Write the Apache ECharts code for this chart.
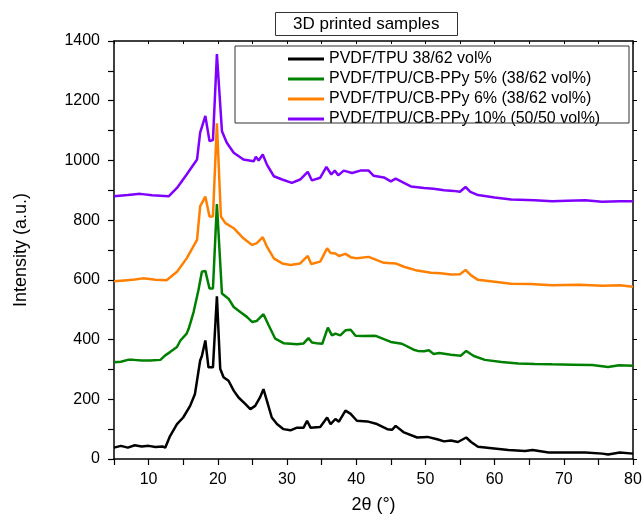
<!DOCTYPE html>
<html>
<head>
<meta charset="utf-8">
<title>3D printed samples - XRD</title>
<script src="https://cdn.jsdelivr.net/npm/echarts@6/dist/echarts.min.js"></script>
<style>
  html, body { margin: 0; padding: 0; background: #fff; }
  #chart { width: 644px; height: 527px; }
</style>
</head>
<body>
<div id="chart"></div>
<script>
// values (2theta in degrees, intensity in a.u.)
var seriesNames = [
  "PVDF/TPU 38/62 vol%",
  "PVDF/TPU/CB-PPy 5% (38/62 vol%)",
  "PVDF/TPU/CB-PPy 6% (38/62 vol%)",
  "PVDF/TPU/CB-PPy 10% (50/50 vol%)"
];
var seriesColors = ["#000000", "#008000", "#ff8000", "#8000ff"];

var xBlack = [5, 6, 7, 8, 9, 10, 11, 12, 12.4, 13.1, 14.1, 15.0, 16.0, 16.7, 17.45, 17.7, 18.2, 18.65,
  19.3, 19.87, 20.35, 20.83, 21.55, 22.3, 23.0, 24.0, 24.7, 25.4, 26.1, 26.6, 27.1, 27.8, 28.55,
  29.5, 30.5, 31.45, 32.4, 32.9, 33.4, 34.8, 35.8, 36.3, 37.0, 37.5, 38.45, 39.2, 40.1, 41.6, 43.0,
  44.5, 45.2, 45.7, 46.9, 48.8, 50.3, 51.7, 52.7, 53.7, 54.7, 55.9, 56.6, 57.6, 59.6, 62.0, 64.4,
  65.5, 67.8, 70.2, 73.1, 75.6, 76.4, 78.1, 80];
var yBlack = [38, 44, 38, 46, 42, 44, 40, 42, 38, 77, 117, 139, 178, 218, 330, 345, 397, 307,
  307, 545, 302, 274, 262, 229, 206, 184, 167, 178, 206, 234, 195, 139, 117,
  100, 96, 105, 105, 128, 105, 107, 139, 117, 134, 125, 162, 151, 128, 126, 117,
  100, 98, 111, 89, 72, 74, 66, 59, 62, 57, 72, 57, 41, 36, 30, 27,
  30, 22, 22, 22, 18, 15, 22, 18];

var xGreen = [5, 6, 7, 7.8, 9, 10.2, 11.7, 12.4, 13.1, 14.1, 14.6, 15.5, 15.8, 16.5, 17.2, 17.7,
  18.2, 18.8, 19.3, 19.87, 20.6, 21.55, 22.3, 23.25, 24.2, 24.95, 25.6, 26.6, 27.35, 28.3, 29.5,
  30.5, 31.45, 32.4, 33.1, 33.6, 34.3, 35.1, 35.9, 36.5, 37.0, 37.7, 38.45, 39.2, 39.9, 41.0,
  42.6, 43.0, 45.0, 46.6, 48.3, 48.9, 49.8, 50.5, 51.2, 52.0, 53.7, 55.1, 55.9, 57.0, 58.6,
  61.0, 63.4, 65.8, 68.3, 71.2, 74.1, 76.4, 78.0, 80];
var yGreen = [324, 326, 332, 332, 330, 330, 332, 347, 358, 375, 397, 420, 437, 492, 565, 627,
  630, 571, 571, 854, 554, 537, 509, 492, 476, 459, 462, 485, 448, 403, 388,
  386, 384, 387, 405, 390, 388, 386, 440, 414, 420, 414, 431, 433, 413, 412,
  413, 411, 392, 386, 366, 362, 361, 364, 352, 355, 349, 346, 362, 345, 332,
  325, 320, 318, 317, 316, 315, 308, 314, 312];

var xOrange = [5, 6.5, 8, 9.2, 11, 12.6, 14.1, 15.5, 17.0, 17.45, 18.2, 18.8, 19.3, 19.87, 20.45,
  21.1, 22.3, 23.7, 24.95, 25.6, 26.5, 27.1, 28.1, 29.3, 30.5, 31.9, 33.0, 33.5, 34.8, 35.8,
  36.3, 37.0, 37.5, 38.45, 39.2, 40.1, 41.8, 43.0, 44.0, 45.7, 46.9, 48.8, 50.8, 52.2, 53.7,
  55.0, 55.8, 56.6, 57.6, 60.0, 62.4, 65.2, 68.3, 72.2, 75.6, 78.1, 80];
var yOrange = [595, 598, 601, 605, 600, 599, 627, 672, 734, 846, 879, 812, 812, 1124, 812,
  790, 773, 739, 717, 722, 743, 711, 672, 655, 650, 655, 680, 653, 661, 706,
  690, 688, 680, 687, 676, 672, 677, 666, 657, 655, 644, 631, 624, 622, 618,
  619, 633, 615, 600, 594, 587, 586, 582, 584, 580, 582, 577];

var xPurple = [5, 7, 8.8, 10.5, 12.9, 14.1, 15.5, 17.0, 17.45, 18.2, 18.8, 19.3, 19.87, 20.6,
  21.3, 22.3, 23.7, 25.2, 25.5, 25.9, 26.5, 27.1, 28.1, 29.3, 30.7, 31.9, 33.0, 33.6, 34.8,
  35.7, 36.4, 36.9, 37.4, 38.2, 39.4, 40.6, 41.8, 42.5, 44.0, 45.0, 45.7, 46.9, 47.9, 49.8,
  51.2, 52.7, 54.1, 55.0, 55.8, 56.5, 57.6, 60.0, 62.4, 65.8, 68.3, 70.5, 73.1, 75.5, 78.1, 80];
var yPurple = [880, 884, 888, 883, 880, 908, 953, 1003, 1093, 1149, 1065, 1068, 1356, 1098,
  1059, 1026, 1003, 997, 1012, 1000, 1020, 986, 947, 936, 925, 936, 962, 933, 942,
  978, 953, 966, 950, 966, 958, 966, 966, 949, 943, 930, 939, 925, 913, 908,
  905, 900, 898, 895, 911, 895, 884, 876, 869, 867, 863, 865, 867, 862, 863, 863];

var xTicksMin = 5, xTicksMax = 80, xStep = 5;
var yTicksMin = 0, yTicksMax = 1400, yStep = 100;

function zip(xs, ys) {
  return xs.map(function (x, i) { return [x, ys[i]]; });
}

var allX = [xBlack, xGreen, xOrange, xPurple];
var allY = [yBlack, yGreen, yOrange, yPurple];

var FONT = "'Liberation Sans', Arial, sans-serif";

var axisCommon = {
  axisLine: { show: true, onZero: false, lineStyle: { color: "#000", width: 1.5 } },
  axisTick: { show: true, length: 6, lineStyle: { color: "#000", width: 1.2 } },
  splitLine: { show: false }
};

var option = {
  animation: false,
  backgroundColor: "#fff",
  textStyle: { fontFamily: FONT },
  title: {
    text: "3D printed samples",
    left: 275,
    top: 12,
    padding: [4, 18, 3, 18],
    borderColor: "#333",
    borderWidth: 1,
    textStyle: { fontFamily: FONT, fontSize: 17, fontWeight: "normal", color: "#000" }
  },
  legend: {
    data: seriesNames.map(function (n) { return { name: n, icon: "rect" }; }),
    orient: "vertical",
    left: 288,
    top: 51,
    padding: 0,
    itemWidth: 36,
    itemHeight: 3,
    itemGap: 4,
    textStyle: { fontFamily: FONT, fontSize: 16, color: "#000", lineHeight: 16 }
  },
  graphic: [{
    // frame around the legend
    type: "rect",
    shape: { x: 235, y: 46, width: 394, height: 77 },
    style: { fill: null, stroke: "#333", lineWidth: 1 },
    z: 100
  }],
  grid: { left: 114, right: 11, top: 41, bottom: 68, outerBoundsMode: "none" },
  xAxis: [
    Object.assign({}, axisCommon, {
      type: "value",
      min: xTicksMin, max: xTicksMax, interval: xStep,
      name: "2\u03b8 (\u00b0)",
      nameLocation: "middle",
      nameGap: 37,
      nameTextStyle: { fontFamily: FONT, fontSize: 18, color: "#000" },
      axisLabel: {
        margin: 13, fontFamily: FONT, fontSize: 16, color: "#000",
        formatter: function (v) { return v % 10 === 0 ? String(v) : ""; }
      }
    }),
    Object.assign({}, axisCommon, {
      type: "value", position: "top",
      min: xTicksMin, max: xTicksMax, interval: xStep,
      axisTick: { show: true, inside: true, length: 3, lineStyle: { color: "#000" } },
      axisLabel: { show: false }
    })
  ],
  yAxis: [
    Object.assign({}, axisCommon, {
      type: "value",
      min: yTicksMin, max: yTicksMax, interval: yStep,
      name: "Intensity (a.u.)",
      nameLocation: "middle",
      nameGap: 84,
      nameTextStyle: { fontFamily: FONT, fontSize: 18, color: "#000" },
      axisLabel: {
        margin: 14, fontFamily: FONT, fontSize: 16, color: "#000",
        formatter: function (v) { return v % 200 === 0 ? String(v) : ""; }
      }
    }),
    Object.assign({}, axisCommon, {
      type: "value", position: "right",
      min: yTicksMin, max: yTicksMax, interval: yStep,
      axisTick: { show: true, length: 4, lineStyle: { color: "#000" } },
      axisLabel: { show: false }
    })
  ],
  series: seriesNames.map(function (name, i) {
    return {
      name: name,
      type: "line",
      xAxisIndex: 0,
      yAxisIndex: 0,
      symbol: "none",
      smooth: false,
      color: seriesColors[i],
      itemStyle: { color: seriesColors[i] },
      lineStyle: { color: seriesColors[i], width: 2.5 },
      data: zip(allX[i], allY[i])
    };
  })
};

var chart = echarts.init(document.getElementById("chart"), null, { renderer: "canvas" });
chart.setOption(option);
</script>
</body>
</html>
